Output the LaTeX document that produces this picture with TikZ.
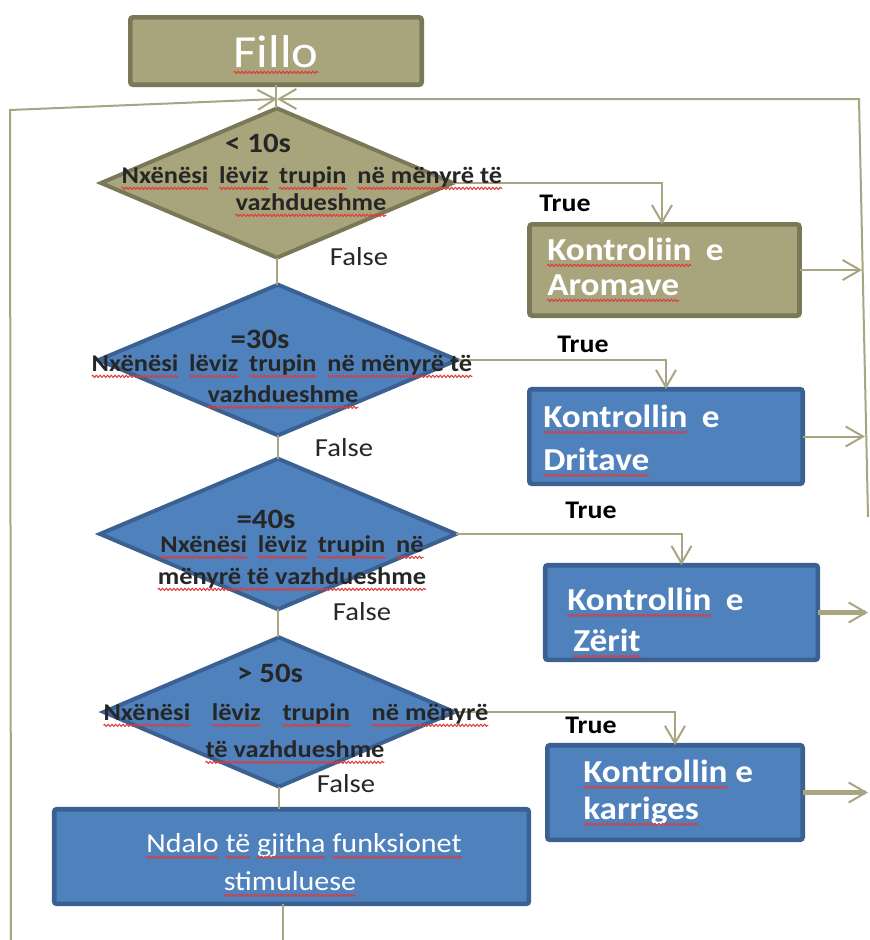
\documentclass[tikz,border=0pt]{standalone}
\usepackage{fontspec}
\setmainfont{Carlito}[FakeStretch=1.1]
\usetikzlibrary{shapes.geometric,arrows.meta,decorations.pathmorphing}

\definecolor{khakifill}{HTML}{A8A47C}
\definecolor{khakiedge}{HTML}{7B7858}
\definecolor{bluefill}{HTML}{4F81BD}
\definecolor{blueedge}{HTML}{3A6192}
\definecolor{linkcol}{HTML}{A8A582}
\definecolor{inktext}{HTML}{262626}
\definecolor{spellred}{HTML}{E03A3A}

% red wavy underline used under the flagged words
\newsavebox\spellbox
\newcommand\spell[1]{\sbox\spellbox{#1}\leavevmode\rlap{\usebox\spellbox}%
  \tikz[baseline=0pt,x=1pt,y=1pt]{\useasboundingbox (0pt,0pt) rectangle (\wd\spellbox,0pt);
    \draw[spellred,line width=0.75pt,line join=round,decorate,decoration={zigzag,segment length=2.8pt,amplitude=0.9pt}]
      (0pt,-4pt) -- (\wd\spellbox,-4pt);}}
\newcommand\wsp{\hspace{0.45em}}

\begin{document}
\begin{tikzpicture}[x=0.75pt,y=-0.75pt,
  stepbox/.style={rectangle, rounded corners=2pt, line width=3.5pt, inner sep=0pt, outer sep=0pt},
  khakibox/.style={stepbox, fill=khakifill, draw=khakiedge},
  bluebox/.style={stepbox, fill=bluefill, draw=blueedge},
  decision/.style={shape=diamond, inner sep=0pt, outer sep=0pt, line width=3pt},
  khakidec/.style={decision, fill=khakifill, draw=khakiedge},
  bluedec/.style={decision, fill=bluefill, draw=blueedge},
  conn/.style={draw=linkcol, line width=1.5pt},
  arr/.style={conn, -{Straight Barb[length=13pt,width=15pt,line width=1.5pt]}},
  thickarr/.style={draw=linkcol, line width=3.6pt, -{Straight Barb[length=13pt,width=15pt,line width=1.5pt]}},
  headtxt/.style={anchor=base, inner sep=0pt, text=inktext, font=\bfseries\fontsize{21}{24}\selectfont},
  bodytxt/.style={anchor=base, inner sep=0pt, text=inktext, font=\bfseries\fontsize{18}{22}\selectfont},
  truetxt/.style={anchor=base, inner sep=0pt, text=black, font=\bfseries\fontsize{19}{22}\selectfont},
  falsetxt/.style={anchor=base, inner sep=0pt, text=inktext, font=\fontsize{19.5}{22}\selectfont},
  boxtxt/.style={anchor=base west, inner sep=0pt, text=white, font=\bfseries\fontsize{24}{28}\selectfont},
  stoptxt/.style={anchor=base, inner sep=0pt, text=white, font=\fontsize{20.5}{24}\selectfont},
  filltxt/.style={anchor=base, inner sep=0pt, text=white, font=\fontsize{34.5}{40}\selectfont}
]
\useasboundingbox (0,0) rectangle (869,940);

% ---- shapes ----
\node[khakibox, minimum width=218.5pt, minimum height=50.5pt] (start) at (276,51) {};

\node[khakidec, minimum width=264pt, minimum height=112pt] (d1) at (277,183) {};
\node[bluedec,  minimum width=269pt, minimum height=113pt] (d2) at (278,360) {};
\node[bluedec,  minimum width=267pt, minimum height=113pt] (d3) at (278,534) {};
\node[bluedec,  minimum width=263pt, minimum height=112pt] (d4) at (279,712) {};

\node[khakibox, minimum width=202.5pt, minimum height=68.5pt] (box1) at (664.5,270) {};
\node[bluebox,  minimum width=205pt,   minimum height=71pt]   (box2) at (666,436.5) {};
\node[bluebox,  minimum width=204.5pt, minimum height=71pt]   (box3) at (681.5,612.5) {};
\node[bluebox,  minimum width=191.5pt, minimum height=71pt]   (box4) at (675,792.5) {};
\node[bluebox,  minimum width=356pt,   minimum height=71pt]   (stop) at (291.5,856.5) {};

% ---- free ends of the loop lines ----
\coordinate (merge) at (277,99);
\coordinate (rtop) at (859,99);
\coordinate (rbot) at (868,517);
\coordinate (ltop) at (10,110);
\coordinate (lbot) at (11,940);
\coordinate (r1) at (862,270);
\coordinate (r2) at (865,436.5);
\coordinate (out3) at (868,612.5);
\coordinate (out4) at (868,792.5);
\coordinate (sbot) at (283,940);

% ---- connectors ----
\draw[conn] (start.south) -- (start.south |- d1.north);
\draw[arr] (rbot) -- (rtop) -- (merge);
\draw[arr] (lbot) -- (ltop) -- (merge);

\draw[conn] (d1.south) -- (d1.south |- d2.north);
\draw[conn] (d2.south) -- (d2.south |- d3.north);
\draw[conn] (d3.south) -- (d3.south |- d4.north);
\draw[conn] (d4.south) -- (d4.south |- stop.north);
\draw[conn] (stop.south -| sbot) -- (sbot);

\draw[arr] (d1.east) -| ([xshift=-1.9pt]box1.north);
\draw[arr] (d2.east) -| (box2.north);
\draw[arr] (d3.east) -| (box3.north);
\draw[arr] (d4.east) -| (box4.north);

\draw[arr] (box1.east) -- (r1);
\draw[arr] (box2.east) -- (r2);
\draw[thickarr] (box3.east) -- (out3);
\draw[thickarr] (box4.east) -- (out4);

% ---- texts ----
\node[filltxt] (tfillo) at (276,67) {\spell{Fillo}};

\node[headtxt] (h1) at (258,152) {< 10s};
\node[bodytxt] (b1a) at (312,183) {\spell{Nxënësi}\wsp\spell{lëviz}\wsp\spell{trupin}\wsp\spell{në mënyrë të}};
\node[bodytxt] (b1b) at (311,210) {\spell{vazhdueshme}};

\node[headtxt] (h2) at (260,348) {=30s};
\node[bodytxt] (b2a) at (282,371) {\spell{Nxënësi}\wsp\spell{lëviz}\wsp\spell{trupin}\wsp\spell{në mënyrë të}};
\node[bodytxt] (b2b) at (283,402) {\spell{vazhdueshme}};

\node[headtxt] (h3) at (266,528) {=40s};
\node[bodytxt] (b3a) at (292,552) {\spell{Nxënësi}\wsp\spell{lëviz}\wsp\spell{trupin}\wsp\spell{në}};
\node[bodytxt] (b3b) at (292,584) {\spell{mënyrë të vazhdueshme}};

\node[headtxt] (h4) at (270,682) {> 50s};
\node[bodytxt] (b4a) at (296,720) {\spell{Nxënësi}\wsp\wsp\spell{lëviz}\wsp\wsp\spell{trupin}\wsp\wsp\spell{në mënyrë}};
\node[bodytxt] (b4b) at (295,757) {\spell{të vazhdueshme}};

\node[truetxt] (tr1) at (565,211) {True};
\node[truetxt] (tr2) at (583,352) {True};
\node[truetxt] (tr3) at (591,518) {True};
\node[truetxt] (tr4) at (591,733) {True};
\node[falsetxt] (fa1) at (359,265) {False};
\node[falsetxt] (fa2) at (344,456) {False};
\node[falsetxt] (fa3) at (362,620) {False};
\node[falsetxt] (fa4) at (346,792) {False};

\node[boxtxt] (k1a) at (547,260) {\spell{Kontroliin}\wsp e};
\node[boxtxt] (k1b) at (547,295) {\spell{Aromave}};
\node[boxtxt] (k2a) at (543,427) {\spell{Kontrollin}\wsp e};
\node[boxtxt] (k2b) at (543,470) {\spell{Dritave}};
\node[boxtxt] (k3a) at (567,610) {\spell{Kontrollin}\wsp e};
\node[boxtxt] (k3b) at (573,651) {\spell{Zërit}};
\node[boxtxt] (k4a) at (583,782) {\spell{Kontrollin} e};
\node[boxtxt] (k4b) at (583,819) {\spell{karriges}};

\node[stoptxt] (s1) at (304,852) {\spell{Ndalo} \spell{të} \spell{gjitha} \spell{funksionet}};
\node[stoptxt] (s2) at (290,890) {\spell{stimuluese}};
\end{tikzpicture}
\end{document}
